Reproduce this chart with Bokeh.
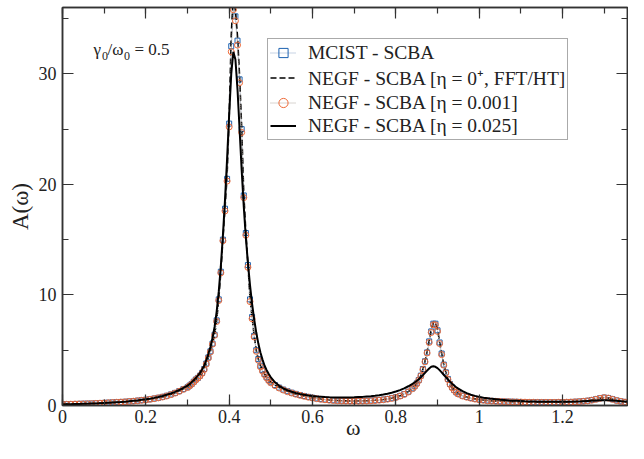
from bokeh.plotting import figure
from bokeh.models import (ColumnDataSource, LinearAxis, SingleIntervalTicker,
                          CustomJSTickFormatter, Label, Legend, LegendItem)
from bokeh.embed import file_html
from bokeh.resources import INLINE

# ---------------- data ----------------
omega = [0.00, 0.01, 0.02, 0.03, 0.04, 0.05, 0.06, 0.07, 0.08, 0.09,
         0.10, 0.11, 0.12, 0.13, 0.14, 0.15, 0.16, 0.17, 0.18, 0.19,
         0.20, 0.21, 0.22, 0.23, 0.24, 0.25, 0.26, 0.27, 0.28, 0.29,
         0.300, 0.305, 0.310, 0.315, 0.320, 0.325, 0.330, 0.335, 0.340, 0.345,
         0.350, 0.355, 0.360, 0.365, 0.370, 0.375, 0.380, 0.385, 0.390, 0.395,
         0.400, 0.405, 0.410, 0.415, 0.420, 0.425, 0.430, 0.435, 0.440, 0.445,
         0.450, 0.455, 0.460, 0.465, 0.470, 0.475, 0.480, 0.485, 0.490, 0.495,
         0.500,
         0.51, 0.52, 0.53, 0.54, 0.55, 0.56, 0.57, 0.58, 0.59, 0.60,
         0.61, 0.62, 0.63, 0.64, 0.65, 0.66, 0.67, 0.68, 0.69, 0.70,
         0.71, 0.72, 0.73, 0.74, 0.75, 0.76, 0.77, 0.78, 0.79, 0.80,
         0.81, 0.82, 0.83, 0.84,
         0.845, 0.850, 0.855, 0.860, 0.865, 0.870, 0.875, 0.880, 0.885, 0.890,
         0.895, 0.900, 0.905, 0.910, 0.915, 0.920, 0.925, 0.930, 0.935, 0.940,
         0.945, 0.950,
         0.96, 0.97, 0.98, 0.99, 1.00, 1.01, 1.02, 1.03, 1.04, 1.05,
         1.06, 1.07, 1.08, 1.09, 1.10, 1.11, 1.12, 1.13, 1.14, 1.15,
         1.16, 1.17, 1.18, 1.19, 1.20, 1.21, 1.22, 1.23, 1.24, 1.25,
         1.26, 1.27, 1.28, 1.29, 1.30, 1.31, 1.32, 1.33, 1.34, 1.35,
         1.36, 1.37, 1.38]

mcist_scba = [0.12, 0.12, 0.13, 0.14, 0.15, 0.16, 0.17, 0.18, 0.20, 0.22,
              0.24, 0.26, 0.28, 0.30, 0.32, 0.34, 0.37, 0.40, 0.44, 0.48,
              0.52, 0.57, 0.63, 0.70, 0.78, 0.88, 1.00, 1.14, 1.30, 1.48,
              1.65, 1.80, 1.95, 2.15, 2.35, 2.50, 2.70, 2.95, 3.30, 3.80,
              4.35, 4.90, 5.60, 6.40, 7.70, 9.60, 12.1, 15.0, 17.8, 20.5,
              25.5, 32.5, 36.3, 35.2, 33.0, 29.5, 25.0, 19.0, 15.6, 12.7,
              9.60, 8.00, 6.30, 5.00, 4.20, 3.60, 3.20, 2.85, 2.55, 2.30,
              2.10,
              1.85, 1.62, 1.44, 1.29, 1.16, 1.05, 0.95, 0.86, 0.78, 0.70,
              0.64, 0.58, 0.54, 0.50, 0.47, 0.45, 0.43, 0.42, 0.41, 0.41,
              0.41, 0.42, 0.43, 0.45, 0.47, 0.50, 0.54, 0.59, 0.66, 0.75,
              0.87, 1.03, 1.25, 1.55,
              1.75, 2.00, 2.30, 2.70, 3.30, 4.00, 4.80, 5.80, 6.70, 7.40,
              7.40, 6.80, 5.70, 4.70, 3.70, 3.00, 2.40, 1.95, 1.65, 1.40,
              1.20, 1.05,
              0.88, 0.77, 0.68, 0.60, 0.54, 0.49, 0.45, 0.42, 0.40, 0.38,
              0.36, 0.35, 0.34, 0.33, 0.32, 0.31, 0.30, 0.30, 0.29, 0.29,
              0.29, 0.29, 0.29, 0.30, 0.30, 0.31, 0.32, 0.34, 0.36, 0.39,
              0.43, 0.49, 0.57, 0.66, 0.72, 0.68, 0.57, 0.46, 0.38, 0.32,
              0.28, 0.25, 0.23]

negf_eta0 = [0.12, 0.12, 0.13, 0.14, 0.15, 0.16, 0.17, 0.18, 0.20, 0.22,
             0.24, 0.26, 0.28, 0.30, 0.32, 0.34, 0.37, 0.40, 0.44, 0.48,
             0.52, 0.57, 0.63, 0.70, 0.78, 0.88, 1.00, 1.14, 1.30, 1.48,
             1.65, 1.80, 1.95, 2.15, 2.35, 2.50, 2.70, 2.95, 3.30, 3.80,
             4.35, 4.90, 5.60, 6.40, 7.70, 9.60, 12.1, 15.0, 17.8, 20.8,
             26.0, 33.5, 37.2, 35.8, 33.4, 29.8, 25.2, 19.2, 15.7, 12.8,
             9.70, 8.00, 6.30, 5.00, 4.20, 3.60, 3.20, 2.85, 2.55, 2.30,
             2.10,
             1.85, 1.62, 1.44, 1.29, 1.16, 1.05, 0.95, 0.86, 0.78, 0.70,
             0.64, 0.58, 0.54, 0.50, 0.47, 0.45, 0.43, 0.42, 0.41, 0.41,
             0.41, 0.42, 0.43, 0.45, 0.47, 0.50, 0.54, 0.59, 0.66, 0.75,
             0.87, 1.03, 1.25, 1.55,
             1.75, 2.00, 2.30, 2.70, 3.30, 4.00, 4.85, 5.85, 6.80, 7.50,
             7.50, 6.90, 5.75, 4.70, 3.70, 3.00, 2.40, 1.95, 1.65, 1.40,
             1.20, 1.05,
             0.88, 0.77, 0.68, 0.60, 0.54, 0.49, 0.45, 0.42, 0.40, 0.38,
             0.36, 0.35, 0.34, 0.33, 0.32, 0.31, 0.30, 0.30, 0.29, 0.29,
             0.29, 0.29, 0.29, 0.30, 0.30, 0.31, 0.32, 0.34, 0.36, 0.39,
             0.43, 0.49, 0.57, 0.66, 0.72, 0.68, 0.57, 0.46, 0.38, 0.32,
             0.28, 0.25, 0.23]

negf_eta001 = [0.11, 0.11, 0.12, 0.13, 0.14, 0.15, 0.16, 0.17, 0.19, 0.21,
               0.23, 0.25, 0.27, 0.29, 0.31, 0.33, 0.36, 0.39, 0.43, 0.47,
               0.51, 0.56, 0.62, 0.69, 0.77, 0.86, 0.98, 1.12, 1.28, 1.46,
               1.63, 1.78, 1.93, 2.12, 2.32, 2.48, 2.68, 2.92, 3.25, 3.75,
               4.30, 4.85, 5.55, 6.35, 7.60, 9.50, 12.0, 14.9, 17.6, 20.3,
               25.2, 32.0, 35.8, 34.8, 32.6, 29.2, 24.7, 18.8, 15.4, 12.5,
               9.40, 7.85, 6.20, 4.90, 4.10, 3.50, 3.10, 2.78, 2.50, 2.25,
               2.05,
               1.80, 1.58, 1.40, 1.25, 1.13, 1.02, 0.92, 0.83, 0.75, 0.68,
               0.62, 0.56, 0.52, 0.48, 0.45, 0.43, 0.41, 0.40, 0.39, 0.39,
               0.39, 0.40, 0.41, 0.43, 0.45, 0.48, 0.52, 0.57, 0.64, 0.73,
               0.85, 1.00, 1.22, 1.52,
               1.72, 1.97, 2.27, 2.66, 3.25, 3.95, 4.75, 5.70, 6.60, 7.30,
               7.30, 6.70, 5.60, 4.60, 3.65, 2.95, 2.35, 1.92, 1.62, 1.38,
               1.18, 1.03,
               0.86, 0.75, 0.66, 0.58, 0.52, 0.47, 0.43, 0.40, 0.38, 0.36,
               0.35, 0.34, 0.33, 0.32, 0.31, 0.30, 0.29, 0.29, 0.28, 0.28,
               0.28, 0.28, 0.28, 0.29, 0.29, 0.30, 0.31, 0.33, 0.35, 0.38,
               0.42, 0.48, 0.56, 0.65, 0.71, 0.67, 0.56, 0.45, 0.37, 0.31,
               0.27, 0.24, 0.22]

negf_eta025 = [0.10, 0.11, 0.12, 0.13, 0.14, 0.15, 0.16, 0.18, 0.19, 0.21,
               0.23, 0.25, 0.27, 0.30, 0.32, 0.35, 0.38, 0.42, 0.46, 0.51,
               0.56, 0.62, 0.69, 0.77, 0.86, 0.97, 1.09, 1.23, 1.40, 1.60,
               1.80, 1.95, 2.10, 2.30, 2.50, 2.70, 2.95, 3.25, 3.60, 4.10,
               4.65, 5.30, 6.10, 7.10, 8.50, 10.3, 12.6, 15.4, 18.6, 22.3,
               26.3, 30.0, 32.0, 31.3, 28.6, 25.0, 21.3, 18.0, 15.2, 12.9,
               10.9, 9.20, 7.80, 6.60, 5.60, 4.80, 4.15, 3.60, 3.20, 2.85,
               2.55,
               2.10, 1.78, 1.55, 1.38, 1.24, 1.13, 1.04, 0.97, 0.91, 0.86,
               0.82, 0.79, 0.76, 0.74, 0.73, 0.72, 0.72, 0.72, 0.73, 0.74,
               0.76, 0.78, 0.81, 0.84, 0.88, 0.93, 0.99, 1.06, 1.15, 1.26,
               1.39, 1.55, 1.74, 1.96,
               2.08, 2.22, 2.37, 2.55, 2.75, 2.95, 3.15, 3.35, 3.50, 3.55,
               3.50, 3.38, 3.20, 3.00, 2.78, 2.56, 2.35, 2.15, 1.97, 1.80,
               1.65, 1.52,
               1.30, 1.12, 0.98, 0.87, 0.78, 0.71, 0.65, 0.60, 0.56, 0.52,
               0.49, 0.46, 0.44, 0.42, 0.40, 0.38, 0.37, 0.36, 0.35, 0.34,
               0.34, 0.33, 0.33, 0.33, 0.33, 0.34, 0.35, 0.36, 0.37, 0.39,
               0.41, 0.43, 0.45, 0.47, 0.48, 0.47, 0.45, 0.42, 0.39, 0.36,
               0.33, 0.31, 0.29]

x_tick_interval = 0.2
y_tick_interval = 10

legend_labels = ["MCIST - SCBA",
                 "NEGF - SCBA [\u03b7 = 0\u207a, FFT/HT]",
                 "NEGF - SCBA [\u03b7 = 0.001]",
                 "NEGF - SCBA [\u03b7 = 0.025]"]

# ---------------- layout constants (pixels) ----------------
W, H = 628, 443
BL, BR, BT, BB = 62, 1, 7, 38
X_END, Y_END = 1.356, 36.0
FW, FH = W - BL - BR, H - BT - BB
SX, SY = FW / X_END, FH / Y_END

def px_x(px):   # canvas pixel -> data x
    return (px - BL) / SX

def px_y(py):   # canvas pixel -> data y
    return (H - BB - py) / SY

SERIF = "Liberation Serif"
BLUE = "#1d62b0"
ORANGE = "#ee6a38"
AXIS = "#333333"
TXT = "#222222"

src = ColumnDataSource(dict(w=omega, mcist=mcist_scba, eta0=negf_eta0,
                            eta001=negf_eta001, eta025=negf_eta025))

p = figure(width=W, height=H, output_backend="svg", toolbar_location=None,
           x_range=(0, X_END), y_range=(0, Y_END),
           min_border_left=BL, min_border_right=BR, min_border_top=BT,
           min_border_bottom=BB)
p.background_fill_color = "white"
p.border_fill_color = "white"
p.outline_line_color = AXIS
p.outline_line_width = 1.5
p.xgrid.visible = False
p.ygrid.visible = False

r_m_line = p.line('w', 'mcist', source=src, line_color="#8ea6c8",
                  line_dash="1 1", line_width=1)
r_m_pts = p.scatter('w', 'mcist', source=src, marker="square", size=5,
                    fill_color=None, line_color=BLUE, line_width=1)
r_d = p.line('w', 'eta0', source=src, line_color="black", line_dash="6 3",
             line_width=1.6)
r_o_line = p.line('w', 'eta001', source=src, line_color="#b0a8a0",
                  line_dash="1 1", line_width=1)
r_o_pts = p.scatter('w', 'eta001', source=src, marker="circle", size=6,
                    fill_color=None, line_color=ORANGE, line_width=1)
r_s = p.line('w', 'eta025', source=src, line_color="black", line_width=2)

def style_axis(ax, labels=True):
    ax.axis_line_color = AXIS
    ax.axis_line_width = 1.5
    ax.major_tick_line_color = AXIS
    ax.minor_tick_line_color = AXIS
    ax.major_tick_line_width = 1.2
    ax.minor_tick_line_width = 1.2
    ax.major_tick_in = 11
    ax.major_tick_out = 0
    ax.minor_tick_in = 6
    ax.minor_tick_out = 0
    if labels:
        ax.major_label_text_font = SERIF
        ax.major_label_text_font_size = "18px"
        ax.major_label_text_color = TXT
    else:
        ax.major_label_text_font_size = "0px"
        ax.major_label_text_color = None
        ax.major_label_standoff = 0
        ax.axis_label = None

fmt = CustomJSTickFormatter(code="return String(Math.round(tick * 100) / 100);")

p.xaxis.ticker = SingleIntervalTicker(interval=x_tick_interval, num_minor_ticks=2)
p.xaxis.formatter = fmt
p.yaxis.ticker = SingleIntervalTicker(interval=y_tick_interval, num_minor_ticks=2)
for ax in p.xaxis:
    style_axis(ax)
    ax.major_label_standoff = 4
    ax.axis_label = "\u00a0\u00a0\u00a0\u03c9"
    ax.axis_label_text_font = SERIF
    ax.axis_label_text_font_size = "22px"
    ax.axis_label_text_font_style = "normal"
    ax.axis_label_text_color = TXT
    ax.axis_label_standoff = -11
for ax in p.yaxis:
    style_axis(ax)
    ax.major_label_standoff = 6
    ax.axis_label = "A(\u03c9)"
    ax.axis_label_text_font = SERIF
    ax.axis_label_text_font_size = "23px"
    ax.axis_label_text_font_style = "normal"
    ax.axis_label_text_color = TXT
    ax.axis_label_standoff = 3

top = LinearAxis(ticker=SingleIntervalTicker(interval=x_tick_interval, num_minor_ticks=2))
style_axis(top, labels=False)
p.add_layout(top, "above")
right = LinearAxis(ticker=SingleIntervalTicker(interval=y_tick_interval, num_minor_ticks=2))
style_axis(right, labels=False)
p.add_layout(right, "right")

# gamma_0 / omega_0 = 0.5 annotation, built from pieces (subscripts)
ann = [("\u03b3", 93, 48.6, "17px"),
       ("0", 101.5, 55.0, "12px"),
       ("/\u03c9", 107, 48.6, "17px"),
       ("0", 123.5, 55.0, "12px"),
       ("= 0.5", 134, 48.6, "17px")]
for txt, px, py, fs in ann:
    p.add_layout(Label(x=px_x(px), y=px_y(py), text=txt, text_font=SERIF,
                       text_font_size=fs, text_baseline="alphabetic",
                       text_align="left", text_color=TXT))

legend = Legend(items=[LegendItem(label=legend_labels[0], renderers=[r_m_line, r_m_pts]),
                       LegendItem(label=legend_labels[1], renderers=[r_d]),
                       LegendItem(label=legend_labels[2], renderers=[r_o_line, r_o_pts]),
                       LegendItem(label=legend_labels[3], renderers=[r_s])],
                location=(205, 265), margin=0, padding=2, spacing=0,
                label_height=23, glyph_height=23, glyph_width=26,
                label_standoff=12, label_text_font=SERIF,
                label_text_font_size="19.5px", label_text_color=TXT,
                border_line_color="#555555", border_line_width=1.5,
                background_fill_color="white", background_fill_alpha=1.0)
p.add_layout(legend, "center")

open("out.html", "w").write(file_html(p, INLINE))
